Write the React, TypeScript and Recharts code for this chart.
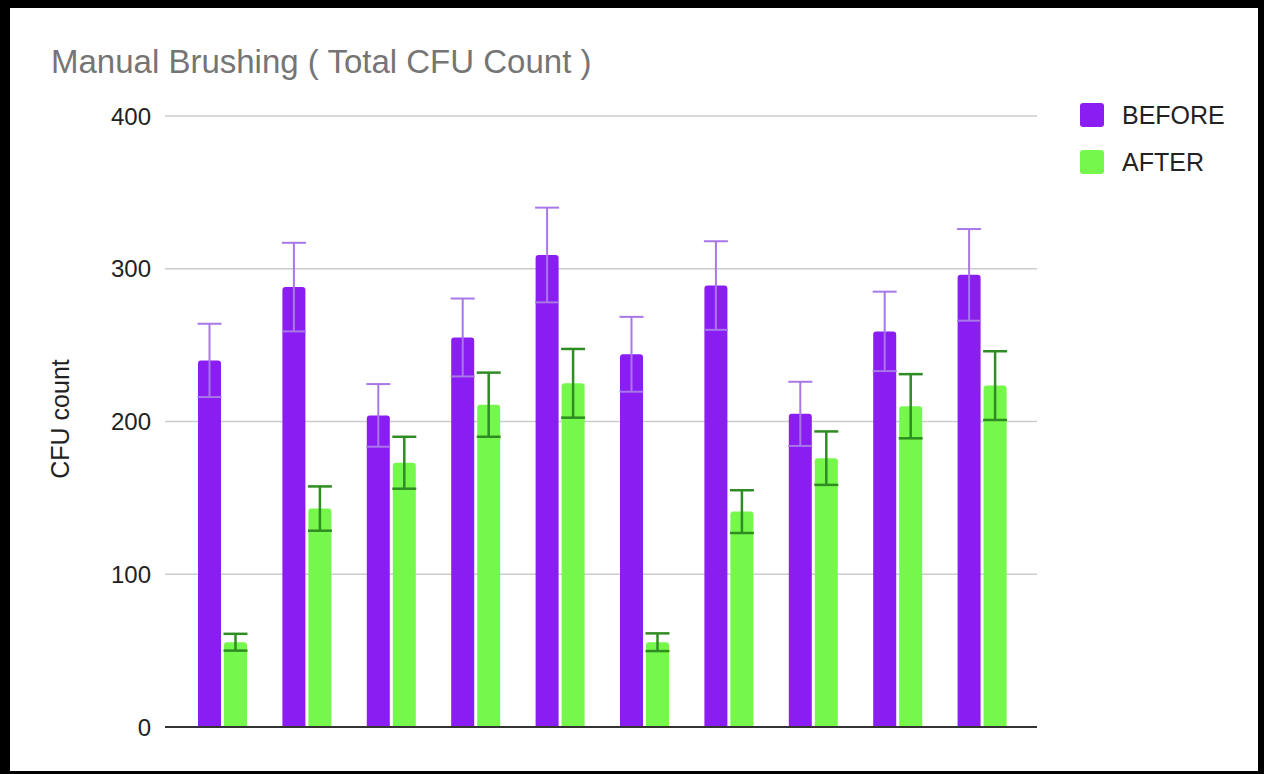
import React from 'react';
import { BarChart, Bar, XAxis, YAxis, CartesianGrid, ErrorBar } from 'recharts';

const categories = ['1', '2', '3', '4', '5', '6', '7', '8', '9', '10'];
const beforeValues = [240, 288, 204, 255, 309, 244, 289, 205, 259, 296];
const beforeErrors = [24, 29, 20.5, 25.5, 31, 24.5, 29, 21, 26, 30];
const afterValues = [55.5, 143, 173, 211, 225, 55.5, 141, 176, 210, 223.5];
const afterErrors = [5.5, 14.5, 17, 21, 22.5, 5.8, 14, 17.5, 21, 22.5];
const yTicks = [0, 100, 200, 300, 400];
const seriesNames = ['BEFORE', 'AFTER'];
const seriesColors = ['#8a1df2', '#76f74b'];
const errorColors = ['#a877e8', '#2f8c22'];
const chartTitle = 'Manual Brushing ( Total CFU Count )';
const yAxisTitle = 'CFU count';

const data = categories.map((c, i) => ({
  name: c,
  before: beforeValues[i],
  beforeErr: beforeErrors[i],
  after: afterValues[i],
  afterErr: afterErrors[i],
}));

const FONT = '"Liberation Sans", Arial, sans-serif';

export default function App() {
  return (
    <div style={{ position: 'absolute', left: 0, top: 0, width: 1264, height: 774, background: '#fff' }}>
      <div
        style={{
          position: 'absolute',
          left: 0,
          top: 0,
          width: 1264,
          height: 774,
          boxSizing: 'border-box',
          borderStyle: 'solid',
          borderColor: '#000',
          borderLeftWidth: 10,
          borderTopWidth: 8,
          borderRightWidth: 6,
          borderBottomWidth: 3,
        }}
      />
      <div
        style={{
          position: 'absolute',
          left: 51,
          top: 45,
          fontFamily: FONT,
          fontSize: 33,
          lineHeight: '33px',
          color: '#757575',
          whiteSpace: 'nowrap',
        }}
      >
        {chartTitle}
      </div>
      <div style={{ position: 'absolute', left: 0, top: 0 }}>
        <BarChart
          width={1264}
          height={774}
          data={data}
          margin={{ top: 116, right: 227, bottom: 45, left: 85 }}
          barGap={3}
        >
          <CartesianGrid vertical={false} stroke="#cccccc" strokeWidth={1.5} />
          <XAxis
            dataKey="name"
            tick={false}
            tickLine={false}
            axisLine={{ stroke: '#333333', strokeWidth: 2 }}
            padding={{ left: 15, right: 13 }}
            height={2}
          />
          <YAxis
            domain={[0, 400]}
            ticks={yTicks}
            tickLine={false}
            axisLine={false}
            tickSize={0}
            tickMargin={14}
            width={80}
            tick={{ fontSize: 24, fill: '#222222', fontFamily: FONT }}
            label={{
              content: () => (
                <text
                  x={60}
                  y={419}
                  transform="rotate(-90 60 419)"
                  textAnchor="middle"
                  dominantBaseline="central"
                  fontSize={25}
                  fill="#222222"
                  fontFamily={FONT}
                >
                  {yAxisTitle}
                </text>
              ),
            }}
          />
          <Bar dataKey="before" name={seriesNames[0]} fill={seriesColors[0]} barSize={23} radius={[3, 3, 0, 0]} isAnimationActive={false}>
            <ErrorBar dataKey="beforeErr" width={12} strokeWidth={2} stroke={errorColors[0]} direction="y" />
          </Bar>
          <Bar dataKey="after" name={seriesNames[1]} fill={seriesColors[1]} barSize={23} radius={[3, 3, 0, 0]} isAnimationActive={false}>
            <ErrorBar dataKey="afterErr" width={12} strokeWidth={2.5} stroke={errorColors[1]} direction="y" />
          </Bar>
        </BarChart>
      </div>
      {seriesNames.map((n, i) => (
        <div key={n} style={{ position: 'absolute', left: 1080, top: 103 + i * 46.5, height: 24, display: 'flex', alignItems: 'center' }}>
          <div style={{ width: 24, height: 24, borderRadius: 3, background: seriesColors[i] }} />
          <div style={{ marginLeft: 18, fontFamily: FONT, fontSize: 25, color: '#222222', lineHeight: '24px', whiteSpace: 'nowrap' }}>{n}</div>
        </div>
      ))}
    </div>
  );
}
